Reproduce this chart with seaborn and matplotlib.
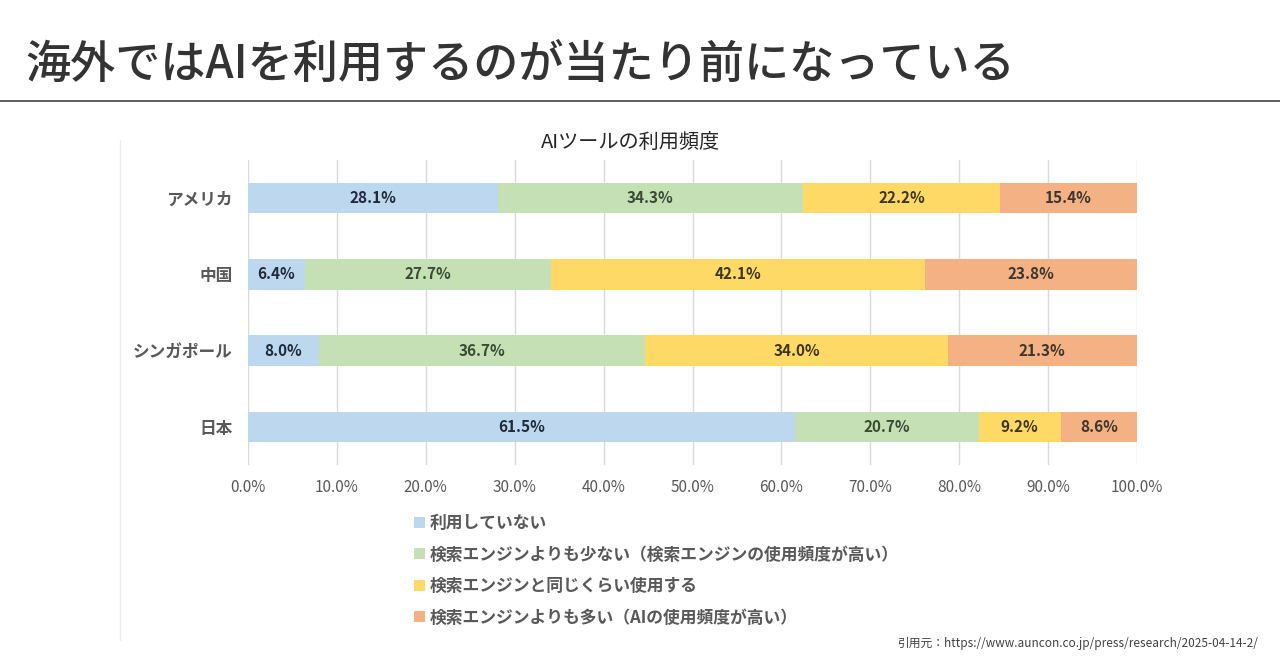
import matplotlib
matplotlib.use("Agg")
import matplotlib.pyplot as plt
from matplotlib.lines import Line2D
from matplotlib.patches import Patch
import seaborn as sns
import pandas as pd
import numpy as np

# data
countries = ["アメリカ", "中国", "シンガポール", "日本"]
not_used = [28.1, 6.4, 8.0, 61.5]
less_than_search = [34.3, 27.7, 36.7, 20.7]
same_as_search = [22.2, 42.1, 34.0, 9.2]
more_than_search = [15.4, 23.8, 21.3, 8.6]
series_names = [
    "利用していない",
    "検索エンジンよりも少ない（検索エンジンの使用頻度が高い）",
    "検索エンジンと同じくらい使用する",
    "検索エンジンよりも多い（AIの使用頻度が高い）",
]
colors = ["#BDD7EE", "#C5E0B4", "#FFD966", "#F4B183"]
label_colors = ["#1F2A3A", "#3B4A33", "#3D3520", "#3D3530"]
x_ticks = [0, 10, 20, 30, 40, 50, 60, 70, 80, 90, 100]

sns.set_style("white")
plt.rcParams["font.family"] = ["Noto Sans CJK JP", "DejaVu Sans"]

series = [not_used, less_than_search, same_as_search, more_than_search]
df = pd.DataFrame({"country": countries})
for name, vals in zip(series_names, series):
    df[name] = vals
cum = df[series_names].cumsum(axis=1)

fig = plt.figure(figsize=(12.8, 6.7), dpi=100)
ax = fig.add_axes([248 / 1280, 1 - 465 / 670, (1137 - 248) / 1280, (465 - 160) / 670])

# stacked bars: draw cumulative totals from the last series backwards
for i in range(len(series_names) - 1, -1, -1):
    sns.barplot(x=cum[series_names[i]], y=df["country"], orient="h",
                color=colors[i], saturation=1, width=0.4, ax=ax, zorder=3,
                linewidth=0, edgecolor="none")

# segment labels
for i, name in enumerate(series_names):
    centers = cum[name] - df[name] / 2
    for j, (c, v) in enumerate(zip(centers, df[name])):
        ax.text(c, j, f"{v:.1f}%", ha="center", va="center", fontsize=11,
                fontweight="bold", color=label_colors[i], zorder=4)

ax.set_xlim(0, 100)
ax.set_ylim(3.5, -0.5)
ax.set_xticks(x_ticks)
ax.set_xticklabels([f"{t:.1f}%" for t in x_ticks])
ax.xaxis.grid(True, color="#D9D9D9", linewidth=1, zorder=0)
ax.set_axisbelow(True)
ax.set_xlabel("")
ax.set_ylabel("")
sns.despine(ax=ax, left=True, bottom=True)
ax.tick_params(axis="x", length=0, labelsize=11, labelcolor="#595959", pad=10)
ax.tick_params(axis="y", length=0, labelsize=12, labelcolor="#595959", pad=11)
for lbl in ax.get_yticklabels():
    lbl.set_fontweight("bold")

# headline and rule
fig.text(25 / 1280, 1 - 64 / 670, "海外ではAIを利用するのが当たり前になっている",
         fontsize=32.5, fontweight="medium", color="#333333", va="center", ha="left")
fig.add_artist(Line2D([0, 1], [1 - 101 / 670, 1 - 101 / 670], color="#444444", lw=1.2))
fig.add_artist(Line2D([120 / 1280, 120 / 1280], [1 - 140 / 670, 1 - 640 / 670],
                      color="#EBEBEB", lw=1))

fig.text(630 / 1280, 1 - 142 / 670, "AIツールの利用頻度", fontsize=14.5,
         color="#262626", ha="center", va="center")

handles = [Patch(facecolor=c, edgecolor="none") for c in colors]
leg = fig.legend(handles, series_names, loc="upper left",
                 bbox_to_anchor=(399 / 1280, 1 - 499 / 670), frameon=False,
                 handlelength=0.65, handleheight=0.65, handletextpad=0.25,
                 labelspacing=0.8, prop={"size": 12.1, "weight": "bold"})
for t in leg.get_texts():
    t.set_color("#595959")

fig.text(1258 / 1280, 1 - 644 / 670,
         "引用元：https://www.auncon.co.jp/press/research/2025-04-14-2/",
         fontsize=8.5, color="#404040", ha="right", va="center")

fig.savefig("out.png", dpi=100)
